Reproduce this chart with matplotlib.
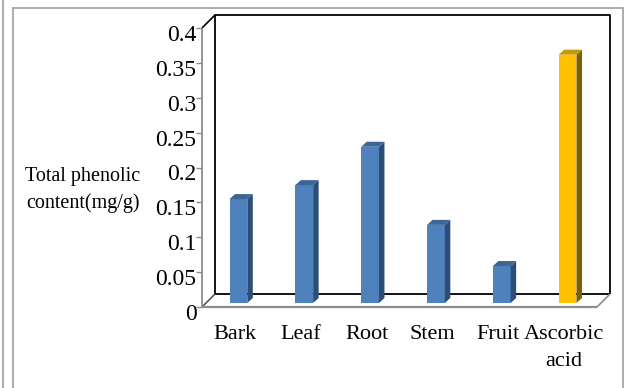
import numpy as np
import matplotlib
matplotlib.use("Agg")
import matplotlib.pyplot as plt
from matplotlib.patches import Polygon
from matplotlib.lines import Line2D
from matplotlib.transforms import ScaledTranslation

plt.rcParams['font.family'] = ['Liberation Serif', 'DejaVu Serif']

# phenolic content per plant part, ascorbic acid as the standard
parts = ['Bark', 'Leaf', 'Root', 'Stem', 'Fruit', 'Ascorbic\nacid']
phenolic = [0.149, 0.169, 0.224, 0.112, 0.053, 0.356]
yticks = [0, 0.05, 0.1, 0.15, 0.2, 0.25, 0.3, 0.35, 0.4]
ytick_labels = ['0', '0.05', '0.1', '0.15', '0.2', '0.25', '0.3', '0.35', '0.4']

blue = ('#4F81BD', '#2C4D75', '#3D6697')
gold = ('#FFC000', '#7F6000', '#C79800')
faces = [blue] * 5 + [gold]

W, H = 626, 388
fig = plt.figure(figsize=(W / 100, H / 100), dpi=100)
ax = fig.add_axes([202 / W, (H - 307) / H, 395 / W, 279 / H])
ax.set_xlim(-0.5, 5.5)
ax.set_ylim(0, 0.4)
for s in ax.spines.values():
    s.set_visible(False)
ax.patch.set_alpha(0)

# pixel -> data unit helpers for the fake depth
p0 = ax.transData.transform((0, 0))
p1 = ax.transData.transform((1, 1))
ppx, ppy = p1[0] - p0[0], p1[1] - p0[1]
def dx(px):
    return px / ppx
def dy(px):
    return px / ppy

x = np.arange(len(parts))
x0, x1 = -0.5, 5.5
y0, y1 = 0.0, 0.4
bx, by = dx(13), dy(13)

grey = '#8c8c8c'
kw = dict(clip_on=False, solid_capstyle='butt')
# back wall and floor outline
ax.plot([x0 + bx, x0 + bx, x1 + bx, x1 + bx], [y0 + by, y1 + by, y1 + by, y0 + by],
        color='black', lw=1.3, zorder=1, **kw)
ax.plot([x0 + bx, x1 + bx], [y0 + by, y0 + by], color='black', lw=1.3, zorder=1, **kw)
ax.plot([x0, x0 + bx], [y1, y1 + by], color='black', lw=1.2, zorder=1, **kw)
ax.plot([x0, x0 + bx], [y0, y0 + by], color='#555555', lw=1.2, zorder=1, **kw)
ax.plot([x1, x1 + bx], [y0, y0 + by], color=grey, lw=1.2, zorder=1, **kw)
ax.plot([x0, x1], [y0, y0], color=grey, lw=1.6, zorder=1, **kw)
ax.plot([x0, x0], [y0, y1], color=grey, lw=1.3, zorder=1, **kw)

# bars sit a little behind the front plane
w = 0.27
ox, oy = dx(3.5), dy(4)
sx, sy = dx(5.5), dy(5)
ax.bar(x + ox, phenolic, width=w, bottom=oy, color=[f[0] for f in faces],
       linewidth=0, zorder=3, clip_on=False)
for xi, v, f in zip(x + ox, phenolic, faces):
    top = v + oy
    side = Polygon([(xi + w / 2, oy), (xi + w / 2 + sx, oy + sy),
                    (xi + w / 2 + sx, top + sy), (xi + w / 2, top)],
                   closed=True, facecolor=f[1], edgecolor='none', zorder=3, clip_on=False)
    lid = Polygon([(xi - w / 2, top), (xi + w / 2, top),
                   (xi + w / 2 + sx, top + sy), (xi - w / 2 + sx, top + sy)],
                  closed=True, facecolor=f[2], edgecolor='none', zorder=3, clip_on=False)
    ax.add_patch(side)
    ax.add_patch(lid)

ax.set_yticks(yticks)
ax.set_yticklabels(ytick_labels, fontsize=17)
ax.tick_params(axis='y', length=4, width=1, color=grey, pad=0)
down = ScaledTranslation(0, -5 / 100, fig.dpi_scale_trans)
for lab in ax.get_yticklabels():
    lab.set_transform(lab.get_transform() + down)

ax.set_xticks(x)
ax.set_xticklabels(parts, fontsize=16, linespacing=1.6)
ax.tick_params(axis='x', length=0, pad=13)

fig.text(83 / W, 1 - 190 / H, 'Total phenolic\ncontent(mg/g)', ha='center', va='center',
         fontsize=14.5, linespacing=1.45)

# outer frame
fc = '#a6a6a6'
for xs, ys in [([3, 3], [0, H]), ([13, 13], [8, H]), ([13, 623], [8, 8]), ([623, 623], [8, H])]:
    fig.add_artist(Line2D([v / W for v in xs], [1 - v / H for v in ys],
                          transform=fig.transFigure, color=fc, lw=1.3))

fig.savefig('out.png', dpi=100)
